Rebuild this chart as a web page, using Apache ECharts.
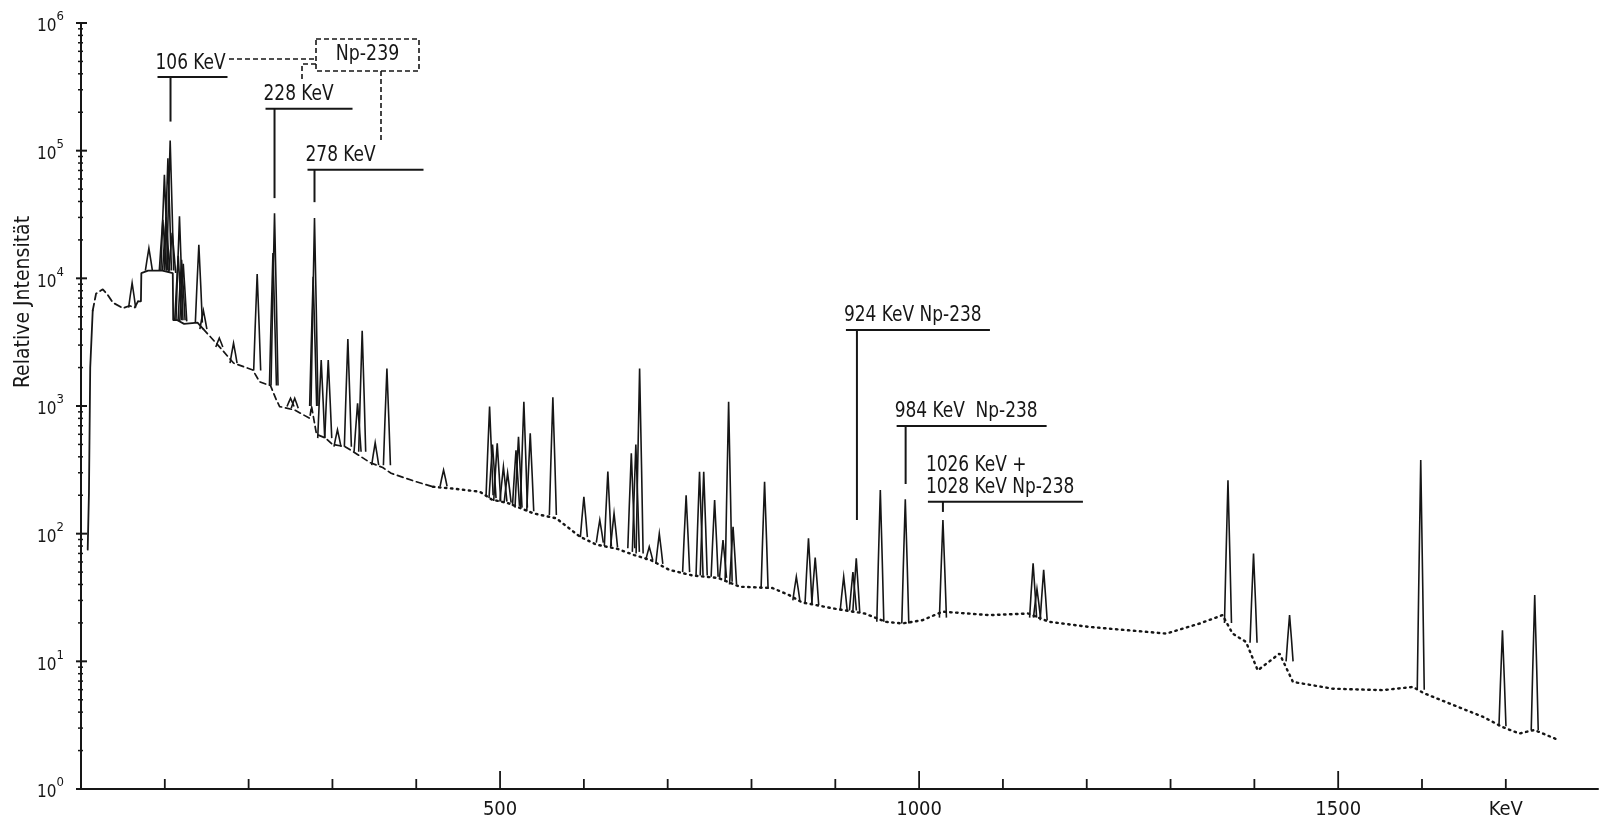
<!DOCTYPE html>
<html>
<head>
<meta charset="utf-8">
<script src="https://cdn.jsdelivr.net/npm/echarts@6/dist/echarts.min.js"></script>
<style>
html, body { margin: 0; padding: 0; background: #fff; }
#chart-1 { width: 1602px; height: 825px; }
</style>
</head>
<body>
<div id="chart-1"></div>
<script>
// gamma spectrum, keV vs relative intensity (log)
var riseEdge = [[8, 75], [9.5, 210], [11, 2000], [14, 5600]];
var humpDashed = [[14, 5600], [18, 7600], [26, 8200], [32, 7400], [38, 6450], [50, 5840], [58, 6100], [64, 5900], [68, 6600]];
var plateau = [[68, 6600], [71.5, 6600], [72, 11000], [80, 11500], [97, 11500], [109.5, 11000], [110, 4700], [115, 4700],
    [123, 4400], [139, 4500], [146, 4000]];
var midDashed = [[146, 4000], [148, 3940], [165, 2920], [182, 2170], [205, 1915], [213, 1550], [221, 1480], [226, 1450],
    [233, 1120], [237, 990], [255, 930], [273, 800], [275, 1000], [281, 600], [292, 560], [300, 500], [315, 480],
    [325, 438], [345, 360], [360, 330], [370, 297], [400, 255], [420, 233]];
var tailDotted = [[420, 233], [445, 225], [476, 213], [490, 185], [510, 173], [540, 144], [567, 132], [595, 95],
    [615, 82], [640, 76], [660, 68], [680, 62], [702, 52], [730, 47], [760, 45], [786, 38.4], [825, 37.5], [845, 33],
    [860, 29], [897, 26], [935, 23.7], [960, 20.4], [980, 19.8], [1004, 21], [1028, 24.5], [1084, 23], [1130, 23.7],
    [1155, 20.4], [1203, 18.6], [1250, 17.5], [1295, 16.5], [1335, 19.8], [1362, 23], [1374, 16.5], [1390, 14.2],
    [1404, 8.5], [1430, 11.5], [1446, 6.9], [1494, 6.1], [1553, 5.95], [1589, 6.3], [1603, 5.6], [1633, 4.67],
    [1673, 3.67], [1696, 3.06], [1716, 2.72], [1734, 2.9], [1764, 2.4]];

// peaks: [keV, base, top]
var peaks = [
    [61, 5900, 9200], [81, 11500, 17200], [97.6, 11500, 28700], [99.5, 11500, 64600], [101.5, 11500, 30000],
    [103.7, 11500, 87000], [106.4, 11500, 120000], [108.8, 11000, 22700],
    [116, 4700, 15000], [117.5, 4700, 30600], [120, 4700, 14000], [122, 4600, 13000], [140.6, 4500, 18300],
    [146, 4000, 5600], [165, 2900, 3400], [182, 2170, 3100], [210.2, 1900, 10800],
    [229, 1450, 15800], [230.9, 1450, 32400], [250, 990, 1150], [255, 960, 1150],
    [277, 1000, 10300], [278.6, 1000, 29700], [286.6, 560, 2290], [295, 560, 2290], [306, 480, 650],
    [318.4, 480, 3340], [330, 438, 1050], [335.5, 438, 3890], [351, 344, 515], [365, 344, 1970], [432.6, 235, 315],
    [487.5, 200, 990], [491, 190, 500], [496.6, 180, 510], [504, 178, 334], [509, 175, 298], [519, 165, 450],
    [522, 160, 574], [528.4, 160, 1080], [536, 150, 610], [563, 140, 1170], [600, 94, 194], [619, 85, 128],
    [628.6, 80, 306], [636, 78, 144], [656.6, 77, 426], [662, 72, 500], [666.5, 70, 1970], [678, 62, 79],
    [690, 58, 100], [722, 50, 200], [738, 47, 306], [743, 47, 306], [756, 46, 183], [766, 45, 89],
    [772.7, 42, 1080], [778, 40, 113], [815.6, 37, 255], [853.5, 30, 46], [868, 28, 92], [876, 27.6, 65],
    [910, 25, 46], [921, 25, 50], [925, 24, 64], [953.7, 20.4, 220], [983.5, 19.8, 186], [1028.4, 22, 128],
    [1136, 22, 58.6], [1140.6, 22, 37], [1148.6, 21, 52], [1368.5, 20, 262], [1399, 14, 70], [1442, 10, 23],
    [1598.5, 6, 377], [1696, 3.1, 17.5], [1734.5, 2.9, 33]
];

// line labels: [keV, underline value, stem end value, text]
var annotations = [
    [106.8, 377000, 169000, '106 KeV'],
    [230.9, 213000, 42500, '228 KeV'],
    [278.6, 70800, 39500, '278 KeV'],
    [925.8, 3940, 128, '924 KeV Np-238'],
    [983.9, 697, 245, '984 KeV  Np-238'],
    [1028.4, 178, 148, '1026 KeV +\n1028 KeV Np-238']
];
var annoLayout = [[-13, 57], [-9, 78], [-7, 109], [-11, 133], [-9, 141], [-15, 140]];

var xLabelValues = [500, 1000, 1500, 1700];
var xLabels = {500: '500', 1000: '1000', 1500: '1500', 1700: 'KeV'};

var ink = '#161616';
var font = '"Liberation Sans Narrow", "DejaVu Sans Condensed", sans-serif';

// axis tick positions: [value, major]
var xTicks = [];
for (var k = 100; k <= 1700; k += 100) xTicks.push([k, 1, k % 500 === 0 ? 1 : 0]);
var yTicks = [];
for (var d = 0; d <= 6; d++) {
    yTicks.push([0, Math.pow(10, d), 1]);
    if (d < 6) {
        for (var m = 2; m <= 9; m++) yTicks.push([0, m * Math.pow(10, d), 0]);
    }
}

var dom = document.getElementById('chart-1');
var myChart = echarts.init(dom);

function lineSeries(data, dash, width) {
    return {
        type: 'line',
        data: data,
        symbol: 'none',
        silent: true,
        lineStyle: { color: ink, width: width, type: dash, cap: 'round' }
    };
}

var dashStyle = { fill: null, stroke: ink, lineWidth: 1.6, lineDash: [5, 3] };

var option = {
    backgroundColor: '#fff',
    animation: false,
    grid: { left: 81, right: 4, top: 23, bottom: 36 },
    xAxis: {
        type: 'value',
        min: 0,
        max: 1810,
        axisLine: { lineStyle: { color: ink, width: 2 } },
        axisTick: { show: false },
        axisLabel: {
            margin: 11,
            color: ink,
            fontFamily: font,
            fontSize: 20,
            customValues: xLabelValues,
            formatter: function (v) { return xLabels[v] || ''; }
        },
        splitLine: { show: false }
    },
    yAxis: {
        type: 'log',
        logBase: 10,
        min: 1,
        max: 1000000,
        axisLine: { show: true, lineStyle: { color: ink, width: 2 } },
        axisTick: { show: false },
        splitLine: { show: false },
        axisLabel: {
            margin: 17,
            color: ink,
            formatter: function (v) {
                return '{b|10}{s|' + Math.round(Math.log10(v)) + '}';
            },
            rich: {
                b: { fontFamily: font, fontSize: 17, color: ink, verticalAlign: 'bottom', lineHeight: 25 },
                s: { fontFamily: font, fontSize: 13, color: ink, verticalAlign: 'top', lineHeight: 13 }
            }
        }
    },
    graphic: [
        {
            type: 'text', x: 24, y: 302, rotation: Math.PI / 2,
            style: { text: 'Relative Jntensität', font: '21px ' + font, fill: ink, align: 'center', verticalAlign: 'middle' }
        },
        { type: 'rect', shape: { x: 316, y: 39, width: 103, height: 32 }, style: dashStyle },
        {
            type: 'text', x: 367.5, y: 55, scaleX: 0.92,
            style: { text: 'Np-239', font: '21px ' + font, fill: ink, align: 'center', verticalAlign: 'middle' }
        },
        { type: 'polyline', shape: { points: [[229, 59], [316, 59]] }, style: dashStyle },
        { type: 'polyline', shape: { points: [[316, 64], [302, 64], [302, 80]] }, style: dashStyle },
        { type: 'polyline', shape: { points: [[381, 71], [381, 140]] }, style: dashStyle }
    ],
    series: [
        lineSeries(riseEdge, 'solid', 1.8),
        lineSeries(humpDashed, [7, 4], 1.8),
        lineSeries(plateau, 'solid', 1.8),
        lineSeries(midDashed, [6, 4], 1.7),
        lineSeries(tailDotted, [1.5, 4.5], 2.4),
        {
            type: 'custom',
            silent: true,
            data: peaks,
            encode: { x: 0, y: 2 },
            renderItem: function (params, api) {
                var e = api.value(0);
                var pb = api.coord([e, api.value(1)]);
                var pt = api.coord([e, api.value(2)]);
                var mid = pb[1] + (pt[1] - pb[1]) * 0.45;
                var hw = 3.5;
                return {
                    type: 'polyline',
                    shape: { points: [[pb[0] - hw, pb[1]], [pt[0] - 2, mid], [pt[0], pt[1]], [pt[0] + 2, mid], [pb[0] + hw, pb[1]]] },
                    style: { fill: null, stroke: ink, lineWidth: 1.6 }
                };
            }
        },
        {
            type: 'custom',
            silent: true,
            data: annotations.map(function (a) { return [a[0], a[1], a[2]]; }),
            encode: { x: 0, y: 1 },
            renderItem: function (params, api) {
                var a = annotations[params.dataIndex];
                var lay = annoLayout[params.dataIndex];
                var s = api.coord([a[0], a[1]]);
                var e = api.coord([a[0], a[2]]);
                return {
                    type: 'group',
                    children: [
                        { type: 'line', shape: { x1: s[0] + lay[0], y1: s[1], x2: s[0] + lay[1], y2: s[1] }, style: { stroke: ink, lineWidth: 2 } },
                        { type: 'line', shape: { x1: s[0], y1: s[1], x2: e[0], y2: e[1] }, style: { stroke: ink, lineWidth: 2 } },
                        {
                            type: 'text', x: s[0] + lay[0] - 2, y: s[1] - 3, scaleX: 0.9,
                            style: { text: a[3], font: '21px ' + font, fill: ink, align: 'left', verticalAlign: 'bottom', lineHeight: 22 }
                        }
                    ]
                };
            }
        },
        {
            type: 'custom',
            silent: true,
            data: xTicks,
            encode: { x: 0, y: 1 },
            renderItem: function (params, api) {
                var p = api.coord([api.value(0), 1]);
                var major = api.value(2) === 1;
                return {
                    type: 'line',
                    shape: { x1: p[0], y1: p[1], x2: p[0], y2: p[1] - (major ? 18 : 10) },
                    style: { stroke: ink, lineWidth: 1.8 }
                };
            }
        },
        {
            type: 'custom',
            silent: true,
            data: yTicks,
            encode: { x: 0, y: 1 },
            renderItem: function (params, api) {
                var p = api.coord([0, api.value(1)]);
                var major = api.value(2) === 1;
                return {
                    type: 'line',
                    shape: { x1: p[0] - (major ? 5 : 3), y1: p[1], x2: p[0] + (major ? 6 : 2), y2: p[1] },
                    style: { stroke: ink, lineWidth: major ? 2 : 1.5 }
                };
            }
        }
    ]
};

if (option && typeof option === 'object') {
    myChart.setOption(option, true);
}
</script>
</body>
</html>
